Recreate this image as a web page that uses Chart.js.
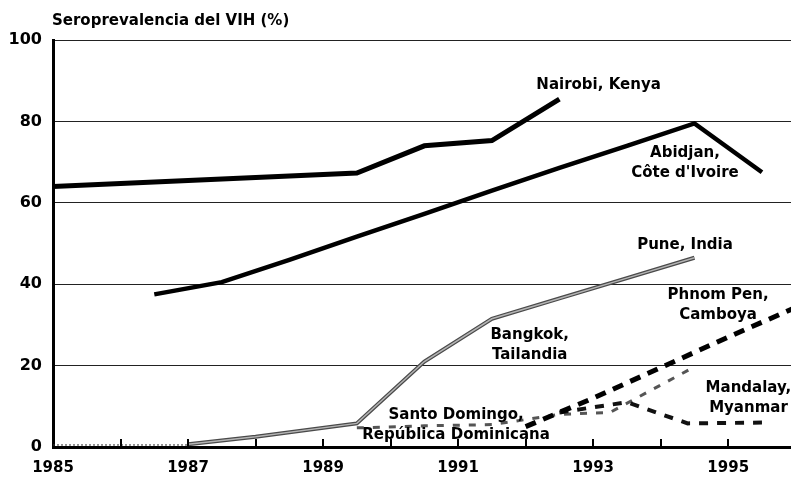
<!DOCTYPE html>
<html>
<head>
<meta charset="utf-8">
<script src="https://cdn.jsdelivr.net/npm/chart.js@4.4.1/dist/chart.umd.min.js"></script>
<style>
  html, body { margin: 0; padding: 0; background: #fff; }
</style>
</head>
<body>
<canvas id="hivChart" width="791" height="479"></canvas>
<script>
// Axis ticks
const xTickYears = [1985, 1987, 1989, 1991, 1993, 1995];
const innerTickYears = [1986, 1987, 1988, 1989, 1990, 1991, 1992, 1993, 1994, 1995];

// Series (year, % seroprevalence)
const nairobiYears = [1985, 1989.5, 1990.5, 1991.5, 1992.5];
const nairobiValues = [64, 67.3, 74, 75.3, 85.5];

const abidjanYears = [1986.5, 1987.5, 1988.5, 1989.5, 1990.5, 1991.5, 1992.5, 1993.5, 1994.5, 1995.5];
const abidjanValues = [37.5, 40.5, 46, 51.7, 57.3, 63, 68.6, 74, 79.5, 67.5];

const bangkokYears = [1987, 1988, 1989.5, 1990.5, 1991.5, 1992.5, 1993.5, 1994.5];
const bangkokValues = [0.7, 2.5, 5.8, 21, 31.5, 36.5, 41.5, 46.5];

const baselineYears = [1985, 1987];
const baselineValues = [0.5, 0.5];

const phnomPenhYears = [1992, 1993, 1994, 1995, 1996];
const phnomPenhValues = [5, 12, 19.5, 27, 34.3];

const mandalayYears = [1992.5, 1993.5, 1994.4, 1995.5];
const mandalayValues = [8.5, 11, 5.8, 6];

const santoDomingoYears = [1989.5, 1990.5, 1991.5, 1992.5, 1993.25, 1994.5];
const santoDomingoValues = [4.7, 5.2, 5.5, 8, 8.5, 19.7];

// Text callouts, anchored in data space
const callouts = [
    { lines: ['Nairobi, Kenya'], x: 1993.08, y: 88.9 },
    { lines: ['Abidjan,', "Côte d'Ivoire"], x: 1994.36, y: 72.2 },
    { lines: ['Pune, India'], x: 1994.36, y: 49.6 },
    { lines: ['Phnom Pen,', 'Camboya'], x: 1994.85, y: 37.3 },
    { lines: ['Bangkok,', 'Tailandia'], x: 1992.06, y: 27.5 },
    { lines: ['Mandalay,', 'Myanmar'], x: 1995.30, y: 14.5 },
    { lines: ['Santo Domingo,', 'República Dominicana'], x: 1990.97, y: 7.9 }
];

const FONT = '"DejaVu Sans", sans-serif';

function points(xs, ys) {
    return xs.map((x, i) => ({ x: x, y: ys[i] }));
}

function series(label, xs, ys, style) {
    return Object.assign({
        label: label,
        data: points(xs, ys),
        fill: false,
        pointRadius: 0,
        tension: 0,
        borderCapStyle: 'butt'
    }, style);
}

// Draws title, inner tick marks and callout text
const overlayPlugin = {
    id: 'overlay',
    afterDraw(chart) {
        const ctx = chart.ctx;
        const xs = chart.scales.x;
        const ys = chart.scales.y;
        const area = chart.chartArea;

        ctx.save();
        ctx.strokeStyle = '#000';
        ctx.lineWidth = 2;
        innerTickYears.forEach(yr => {
            const px = Math.round(xs.getPixelForValue(yr));
            ctx.beginPath();
            ctx.moveTo(px, area.bottom);
            ctx.lineTo(px, area.bottom - 8);
            ctx.stroke();
        });

        ctx.fillStyle = '#000';
        ctx.font = 'bold 15px ' + FONT;
        ctx.textAlign = 'left';
        ctx.textBaseline = 'middle';
        ctx.fillText('Seroprevalencia del VIH (%)', 52, 21);

        ctx.textAlign = 'center';
        callouts.forEach(c => {
            const cx = xs.getPixelForValue(c.x);
            const cy = ys.getPixelForValue(c.y);
            c.lines.forEach((line, i) => {
                ctx.fillText(line, cx, cy + i * 20);
            });
        });
        ctx.restore();
    }
};

const ctx = document.getElementById('hivChart').getContext('2d');
window.myChart = new Chart(ctx, {
    type: 'line',
    data: {
        datasets: [
            series('Bangkok / Pune (inner)', bangkokYears, bangkokValues, { borderColor: '#b4b4b4', borderWidth: 1.5 }),
            series('Bangkok, Tailandia / Pune, India', bangkokYears, bangkokValues, { borderColor: '#4a4a4a', borderWidth: 4 }),
            series('Nairobi, Kenya', nairobiYears, nairobiValues, { borderColor: '#000', borderWidth: 5 }),
            series("Abidjan, Côte d'Ivoire", abidjanYears, abidjanValues, { borderColor: '#000', borderWidth: 4.5 }),
            series('Phnom Pen, Camboya', phnomPenhYears, phnomPenhValues, { borderColor: '#000', borderWidth: 5, borderDash: [11, 8] }),
            series('Mandalay, Myanmar', mandalayYears, mandalayValues, { borderColor: '#111', borderWidth: 4, borderDash: [9, 9] }),
            series('Santo Domingo, República Dominicana', santoDomingoYears, santoDomingoValues, { borderColor: '#555', borderWidth: 3, borderDash: [7, 9] }),
            series('baseline', baselineYears, baselineValues, { borderColor: '#333', borderWidth: 1, borderDash: [2, 2] })
        ]
    },
    options: {
        responsive: false,
        animation: false,
        devicePixelRatio: 1,
        layout: { padding: { top: 40, right: 0, left: 0, bottom: 0 } },
        plugins: {
            legend: { display: false },
            tooltip: { enabled: false }
        },
        scales: {
            x: {
                type: 'linear',
                min: 1985,
                max: 1995.93,
                afterBuildTicks: scale => {
                    scale.ticks = xTickYears.map(v => ({ value: v }));
                },
                afterFit: scale => { scale.height = 32; },
                ticks: {
                    autoSkip: false,
                    maxRotation: 0,
                    color: '#000',
                    padding: 12,
                    font: { family: FONT, size: 15, weight: 'bold' },
                    callback: v => String(v)
                },
                grid: { display: false, drawTicks: false },
                border: { display: true, color: '#000', width: 3 }
            },
            y: {
                min: 0,
                max: 100,
                afterFit: scale => { scale.width = 53; },
                ticks: {
                    stepSize: 20,
                    color: '#000',
                    padding: 11,
                    font: { family: FONT, size: 16, weight: 'bold' }
                },
                grid: { color: '#222', lineWidth: 1, drawTicks: false },
                border: { display: true, color: '#000', width: 3 }
            }
        }
    },
    plugins: [overlayPlugin]
});
</script>
</body>
</html>
